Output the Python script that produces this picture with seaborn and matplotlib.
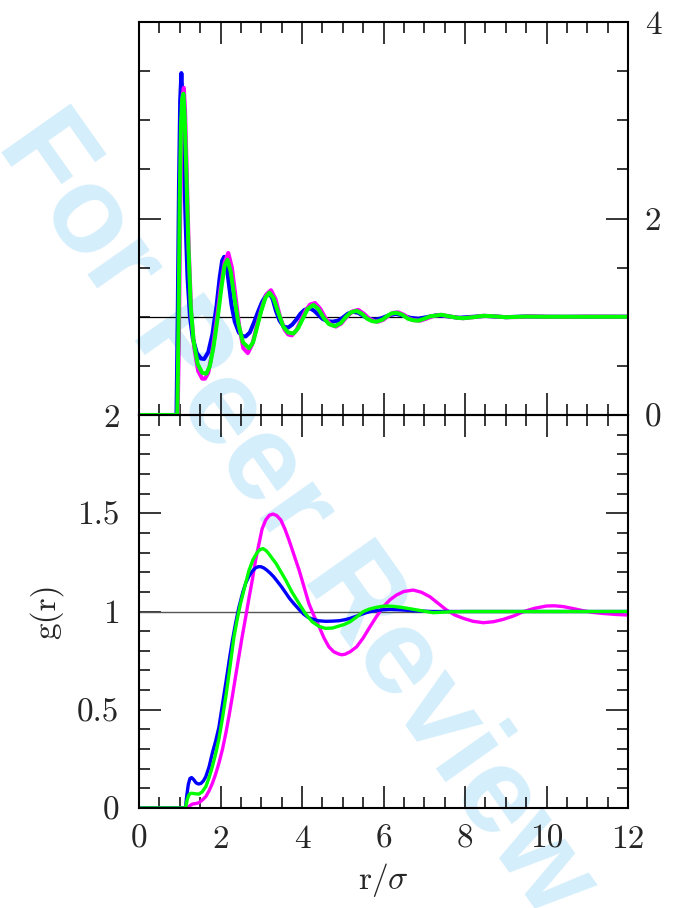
import matplotlib
matplotlib.use("Agg")
import matplotlib.pyplot as plt
from matplotlib.ticker import MultipleLocator, FixedLocator, FixedFormatter
import seaborn as sns
import pandas as pd

# ---------------- data ----------------
# top panel
top_blue_r = [0, 0.92, 0.95, 0.98, 1.01, 1.04, 1.07, 1.10, 1.14, 1.19, 1.25, 1.32, 1.42, 1.52, 1.60,
              1.70, 1.80, 1.90, 1.98, 2.04, 2.09, 2.14, 2.20, 2.27, 2.35, 2.45, 2.55, 2.62, 2.72,
              2.82, 2.92, 3.02, 3.12, 3.20, 3.28, 3.36, 3.45, 3.55, 3.66, 3.76, 3.86, 3.96, 4.06,
              4.20, 4.30, 4.40, 4.50, 4.62, 4.75, 4.88, 5.00, 5.12, 5.25, 5.38, 5.50, 5.62, 5.80,
              5.95, 6.10, 6.30, 6.50, 6.65, 6.85, 7.05, 7.30, 7.55, 7.85, 8.20, 8.50, 9.00, 9.50,
              10.0, 11.0, 12.0]
top_blue_g = [0, 0, 1.0, 2.3, 3.2, 3.48, 3.2, 2.65, 2.0, 1.4, 1.0, 0.78, 0.63, 0.575, 0.57,
              0.64, 0.82, 1.1, 1.4, 1.57, 1.61, 1.55, 1.35, 1.12, 0.95, 0.84, 0.80, 0.80, 0.84,
              0.94, 1.05, 1.15, 1.22, 1.24, 1.18, 1.06, 0.96, 0.90, 0.89, 0.92, 0.97, 1.03, 1.07,
              1.086, 1.06, 1.02, 0.98, 0.955, 0.95, 0.96, 0.99, 1.03, 1.05, 1.04, 1.01, 0.98, 0.97,
              0.985, 1.01, 1.03, 1.01, 0.99, 0.98, 0.995, 1.015, 1.005, 0.99, 1.0, 1.008, 0.996, 1.003,
              1.0, 1.0, 1.0]

top_magenta_r = [0, 0.95, 0.98, 1.01, 1.04, 1.07, 1.10, 1.13, 1.17, 1.22, 1.28, 1.35, 1.45, 1.55,
                 1.62, 1.70, 1.80, 1.90, 2.00, 2.10, 2.19, 2.28, 2.37, 2.46, 2.56, 2.67, 2.78, 2.90,
                 3.02, 3.13, 3.24, 3.35, 3.46, 3.57, 3.66, 3.75, 3.86, 3.98, 4.10, 4.20, 4.32, 4.45,
                 4.57, 4.70, 4.83, 4.96, 5.10, 5.24, 5.38, 5.52, 5.65, 5.78, 5.87, 6.00, 6.12, 6.24,
                 6.36, 6.50, 6.63, 6.75, 6.90, 7.05, 7.20, 7.40, 7.60, 7.80, 7.95, 8.20, 8.45, 8.70,
                 9.00, 9.30, 9.60, 10.0, 10.5, 11.0, 12.0]
top_magenta_g = [0, 0, 0.8, 2.0, 2.9, 3.25, 3.33, 3.1, 2.5, 1.7, 1.05, 0.7, 0.45, 0.37,
                 0.37, 0.43, 0.65, 0.95, 1.28, 1.55, 1.65, 1.5, 1.2, 0.9, 0.68, 0.63, 0.72, 0.92,
                 1.1, 1.23, 1.27, 1.18, 1.0, 0.87, 0.82, 0.81, 0.86, 0.97, 1.07, 1.125, 1.14, 1.08,
                 0.99, 0.92, 0.90, 0.93, 1.0, 1.055, 1.07, 1.03, 0.98, 0.955, 0.95, 0.97, 1.01, 1.04,
                 1.045, 1.02, 0.98, 0.965, 0.96, 0.98, 1.005, 1.02, 1.005, 0.99, 0.985, 0.995, 1.01, 1.005,
                 0.995, 0.997, 1.004, 1.0, 0.998, 1.002, 1.0]

top_green_r = [0, 0.94, 0.97, 1.00, 1.03, 1.06, 1.09, 1.12, 1.16, 1.21, 1.27, 1.34, 1.44, 1.55,
               1.65, 1.74, 1.84, 1.94, 2.03, 2.10, 2.17, 2.25, 2.34, 2.44, 2.55, 2.70, 2.80, 2.90,
               3.00, 3.10, 3.20, 3.30, 3.42, 3.54, 3.66, 3.79, 3.90, 4.02, 4.14, 4.28, 4.40, 4.53,
               4.66, 4.81, 4.95, 5.08, 5.20, 5.34, 5.47, 5.60, 5.72, 5.83, 5.97, 6.10, 6.20, 6.32,
               6.46, 6.60, 6.72, 6.85, 7.00, 7.15, 7.43, 7.60, 7.80, 7.95, 8.20, 8.45, 8.70, 9.00,
               9.50, 10.0, 11.0, 12.0]
top_green_g = [0, 0, 0.9, 2.2, 2.95, 3.22, 3.27, 3.05, 2.5, 1.75, 1.1, 0.75, 0.52, 0.43,
               0.42, 0.5, 0.72, 1.02, 1.32, 1.52, 1.58, 1.46, 1.2, 0.93, 0.74, 0.68, 0.74, 0.9,
               1.06, 1.19, 1.245, 1.19, 1.04, 0.9, 0.84, 0.83, 0.88, 0.98, 1.08, 1.12, 1.08, 0.99,
               0.925, 0.905, 0.935, 1.0, 1.045, 1.06, 1.03, 0.98, 0.955, 0.95, 0.97, 1.01, 1.035, 1.04,
               1.02, 0.98, 0.965, 0.96, 0.98, 1.005, 1.02, 1.005, 0.99, 0.985, 0.995, 1.01, 1.005, 0.995,
               1.002, 1.0, 1.0, 1.0]

# bottom panel
bot_blue_r = [0, 1.14, 1.17, 1.21, 1.25, 1.29, 1.34, 1.40, 1.46, 1.52, 1.58, 1.64, 1.72, 1.80,
              1.88, 1.96, 2.05, 2.14, 2.22, 2.29, 2.37, 2.45, 2.55, 2.62, 2.70, 2.78, 2.86, 2.93,
              2.99, 3.06, 3.14, 3.22, 3.30, 3.40, 3.50, 3.60, 3.70, 3.80, 3.93, 4.05, 4.15, 4.25,
              4.40, 4.58, 4.75, 4.91, 5.05, 5.18, 5.32, 5.45, 5.56, 5.67, 5.80, 5.95, 6.16, 6.45,
              6.73, 7.20, 8.0, 9.0, 10.0, 11.0, 12.0]
bot_blue_g = [0, 0, 0.06, 0.12, 0.15, 0.155, 0.145, 0.128, 0.122, 0.125, 0.138, 0.16, 0.21, 0.28,
              0.34, 0.41, 0.53, 0.65, 0.76, 0.85, 0.94, 1.02, 1.10, 1.145, 1.18, 1.205, 1.222, 1.228,
              1.228, 1.222, 1.21, 1.195, 1.178, 1.152, 1.125, 1.095, 1.065, 1.04, 1.01, 0.985, 0.97, 0.962,
              0.953, 0.95, 0.951, 0.953, 0.958, 0.965, 0.975, 0.985, 0.993, 0.999, 1.004, 1.008, 1.011, 1.008,
              1.004, 1.0, 1.0, 1.0, 1.0, 1.0, 1.0]

bot_green_r = [0, 1.14, 1.18, 1.22, 1.27, 1.33, 1.40, 1.47, 1.55, 1.64, 1.72, 1.80, 1.88, 1.96,
               2.05, 2.14, 2.24, 2.33, 2.41, 2.49, 2.60, 2.70, 2.80, 2.90, 2.97, 3.04, 3.12, 3.20,
               3.27, 3.36, 3.46, 3.60, 3.75, 3.93, 4.08, 4.25, 4.42, 4.58, 4.75, 4.91, 5.05, 5.18,
               5.34, 5.50, 5.65, 5.80, 5.95, 6.08, 6.25, 6.40, 6.57, 6.90, 7.22, 7.60, 8.0, 9.0,
               10.0, 11.0, 12.0]
bot_green_g = [0, 0, 0.04, 0.065, 0.075, 0.074, 0.072, 0.071, 0.082, 0.109, 0.155, 0.21, 0.275, 0.35,
               0.46, 0.58, 0.73, 0.87, 0.96, 1.04, 1.13, 1.21, 1.265, 1.30, 1.315, 1.32, 1.31, 1.29,
               1.27, 1.245, 1.21, 1.16, 1.10, 1.04, 0.99, 0.948, 0.924, 0.914, 0.916, 0.926, 0.935, 0.948,
               0.972, 0.999, 1.012, 1.02, 1.026, 1.028, 1.026, 1.022, 1.017, 1.005, 0.994, 0.998, 1.0, 1.0,
               1.0, 1.0, 1.0]

bot_magenta_r = [0, 1.19, 1.25, 1.31, 1.40, 1.47, 1.55, 1.64, 1.72, 1.80, 1.88, 1.96, 2.05, 2.13,
                 2.21, 2.29, 2.37, 2.45, 2.53, 2.62, 2.70, 2.78, 2.86, 2.94, 3.02, 3.11, 3.20, 3.29,
                 3.38, 3.48, 3.58, 3.68, 3.80, 3.93, 4.05, 4.17, 4.30, 4.42, 4.54, 4.66, 4.78, 4.91,
                 4.97, 5.05, 5.18, 5.34, 5.50, 5.67, 5.83, 6.00, 6.16, 6.32, 6.50, 6.73, 6.93, 7.14,
                 7.35, 7.55, 7.75, 7.96, 8.20, 8.45, 8.70, 8.94, 9.20, 9.43, 9.70, 10.0, 10.2, 10.41,
                 10.65, 10.9, 11.15, 11.39, 11.7, 12.0]
bot_magenta_g = [0, 0, 0.012, 0.02, 0.023, 0.027, 0.04, 0.058, 0.088, 0.125, 0.172, 0.227, 0.30, 0.38,
                 0.47, 0.567, 0.67, 0.77, 0.87, 0.974, 1.07, 1.16, 1.26, 1.34, 1.42, 1.466, 1.49, 1.496,
                 1.488, 1.466, 1.42, 1.364, 1.29, 1.21, 1.125, 1.04, 0.975, 0.923, 0.865, 0.82, 0.795, 0.783,
                 0.78, 0.782, 0.795, 0.82, 0.865, 0.923, 0.975, 1.025, 1.06, 1.084, 1.102, 1.109, 1.098, 1.075,
                 1.04, 1.007, 0.982, 0.965, 0.95, 0.943, 0.948, 0.96, 0.978, 0.999, 1.016, 1.028, 1.029, 1.025,
                 1.015, 1.004, 0.995, 0.99, 0.985, 0.982]

x_ticks = [0, 2, 4, 6, 8, 10, 12]
x_tick_labels = ["0", "2", "4", "6", "8", "10", "12"]
top_y_ticks = [0, 2, 4]
top_y_tick_labels = ["0", "2", "4"]
bot_y_ticks = [0, 0.5, 1, 1.5, 2]
bot_y_tick_labels = ["0", "0.5", "1", "1.5", "2"]

series_colors = {"blue": "#0000ff", "magenta": "#ff00ff", "green": "#00ff00"}

# ---------------- style ----------------
sns.set_style("ticks")
plt.rcParams["font.family"] = ["cmr10", "DejaVu Serif"]
plt.rcParams["mathtext.fontset"] = "cm"
plt.rcParams["axes.unicode_minus"] = False
plt.rcParams["axes.formatter.use_mathtext"] = True

fig = plt.figure(figsize=(6.73, 9.08), dpi=100)
fig.patch.set_facecolor("white")

# watermark
fig.text(296 / 673, 1 - 515 / 908, "For Peer Review", family="Liberation Sans",
         fontweight="bold", fontsize=88, color="#d4eefb", rotation=-54.8,
         rotation_mode="anchor", ha="center", va="center", zorder=-5)

ax_top = fig.add_axes([139 / 673, 1 - 415 / 908, 489 / 673, 393 / 908])
ax_bot = fig.add_axes([139 / 673, 1 - 808 / 908, 489 / 673, 393 / 908])

def df_of(r, g):
    return pd.DataFrame({"r": r, "g": g})

for ax in (ax_top, ax_bot):
    ax.patch.set_alpha(0)
    ax.set_xlim(0, 12)

# top panel
ax_top.axhline(1.0, color="black", lw=0.9, zorder=1)
lw_top = 2.9
sns.lineplot(data=df_of(top_blue_r, top_blue_g), x="r", y="g", ax=ax_top,
             color=series_colors["blue"], lw=lw_top, sort=False, estimator=None, zorder=2)
sns.lineplot(data=df_of(top_magenta_r, top_magenta_g), x="r", y="g", ax=ax_top,
             color=series_colors["magenta"], lw=lw_top, sort=False, estimator=None, zorder=3)
sns.lineplot(data=df_of(top_green_r, top_green_g), x="r", y="g", ax=ax_top,
             color=series_colors["green"], lw=lw_top, sort=False, estimator=None, zorder=4)
ax_top.set_ylim(0, 4)

# bottom panel
ax_bot.axhline(1.0, color="#555555", lw=1.0, zorder=1)
lw_bot = 2.4
sns.lineplot(data=df_of(bot_magenta_r, bot_magenta_g), x="r", y="g", ax=ax_bot,
             color=series_colors["magenta"], lw=lw_bot, sort=False, estimator=None, zorder=2)
sns.lineplot(data=df_of(bot_blue_r, bot_blue_g), x="r", y="g", ax=ax_bot,
             color=series_colors["blue"], lw=lw_bot, sort=False, estimator=None, zorder=3)
sns.lineplot(data=df_of(bot_green_r, bot_green_g), x="r", y="g", ax=ax_bot,
             color=series_colors["green"], lw=lw_bot, sort=False, estimator=None, zorder=4)
ax_bot.set_ylim(0, 2)

fs = 24
for ax in (ax_top, ax_bot):
    for s in ax.spines.values():
        s.set_visible(True)
        s.set_linewidth(1.5)
        s.set_color("black")
        s.set_zorder(6)
    ax.xaxis.set_major_locator(FixedLocator(x_ticks))
    ax.xaxis.set_minor_locator(MultipleLocator(0.5))
    ax.tick_params(which="both", direction="in", top=True, bottom=True, left=True, right=True,
                   color="black", width=1.1, labelsize=fs)
    ax.tick_params(which="major", length=16)
    ax.tick_params(which="minor", length=8)
    ax.set_xlabel("")
    ax.set_ylabel("")

ax_top.xaxis.set_major_formatter(FixedFormatter([""] * len(x_ticks)))
ax_top.tick_params(axis="x", labelbottom=False)
ax_top.yaxis.set_major_locator(FixedLocator(top_y_ticks))
ax_top.yaxis.set_major_formatter(FixedFormatter(top_y_tick_labels))
ax_top.yaxis.set_minor_locator(MultipleLocator(0.5))
ax_top.tick_params(axis="y", labelleft=False, labelright=True, pad=12)

ax_bot.xaxis.set_major_formatter(FixedFormatter(x_tick_labels))
ax_bot.yaxis.set_major_locator(FixedLocator(bot_y_ticks))
ax_bot.yaxis.set_major_formatter(FixedFormatter(bot_y_tick_labels))
ax_bot.yaxis.set_minor_locator(MultipleLocator(0.1))
ax_bot.tick_params(axis="y", pad=14)
ax_bot.tick_params(axis="x", pad=12)

ax_bot.set_xlabel(r"r/$\sigma$", fontsize=fs, labelpad=5)
ax_bot.set_ylabel("g(r)", fontsize=fs, labelpad=10)

fig.savefig("out.png", dpi=100)
